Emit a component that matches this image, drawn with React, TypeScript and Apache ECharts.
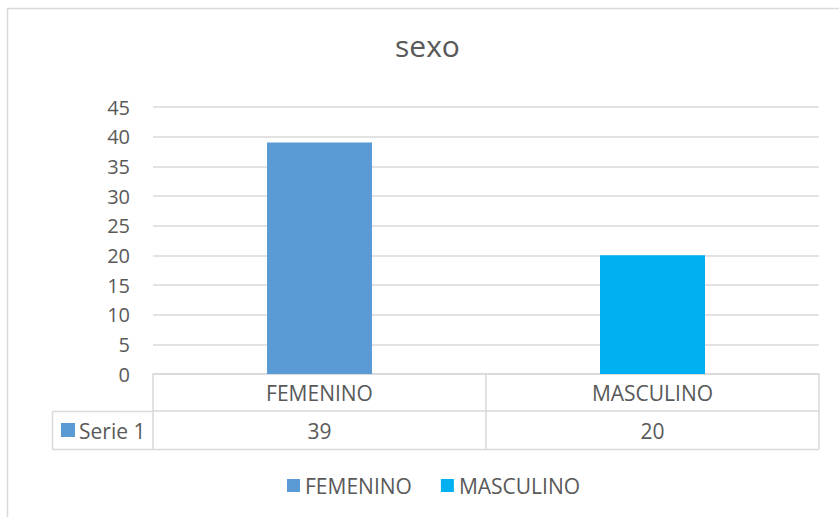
import React, { useEffect, useRef } from "react";
import * as echarts from "echarts";

const title = "sexo";
const categories = ["FEMENINO", "MASCULINO"];
const values = [39, 20];
const seriesLabel = "Serie 1";
const yTicks = { min: 0, max: 45, interval: 5 };
const palette = ["#5B9BD5", "#00B0F0"];

const FONT = "'Open Sans', 'Noto Sans', sans-serif";
const TXT = "#595959";
const LINE = "#d9d9d9";

export default function App() {
  const ref = useRef<HTMLDivElement>(null);
  useEffect(() => {
    if (!ref.current) return;
    const chart = echarts.init(ref.current, undefined, { renderer: "svg" });
    const series = categories.map((c, i) => ({
      name: c,
      type: "bar",
      stack: "s",
      barWidth: 105,
      data: values.map((v, j) => (j === i ? v : "-")),
      itemStyle: { color: palette[i] },
    }));
    chart.setOption({
      animation: false,
      backgroundColor: "#ffffff",
      textStyle: { fontFamily: FONT },
      title: {
        text: title,
        left: 395,
        top: 30,
        padding: 0,
        textStyle: { fontFamily: FONT, fontSize: 30, fontWeight: "normal", color: TXT },
      },
      legend: {
        data: categories,
        left: 287,
        top: 475,
        padding: 0,
        itemWidth: 13,
        itemHeight: 13,
        itemGap: 29,
        icon: "rect",
        textStyle: { fontFamily: FONT, fontSize: 21, color: TXT },
      },
      grid: { left: 153, right: 20, top: 107, bottom: 143, containLabel: false },
      xAxis: [
        {
          type: "category",
          data: categories,
          position: "bottom",
          axisLine: { show: true, lineStyle: { color: LINE, width: 1.5 } },
          axisTick: { show: true, length: 37, lineStyle: { color: LINE, width: 1.5 } },
          axisLabel: { fontFamily: FONT, fontSize: 21, color: TXT, margin: 8, lineHeight: 21 },
        },
        {
          type: "category",
          data: categories,
          position: "bottom",
          offset: 37,
          axisLine: { show: true, lineStyle: { color: LINE, width: 1.5 } },
          axisTick: { show: true, length: 38, lineStyle: { color: LINE, width: 1.5 } },
          axisLabel: {
            fontFamily: FONT,
            fontSize: 21,
            color: TXT,
            margin: 9,
            lineHeight: 21,
            formatter: (_v: string, idx: number) => String(values[idx]),
          },
        },
      ],
      yAxis: {
        type: "value",
        min: yTicks.min,
        max: yTicks.max,
        interval: yTicks.interval,
        axisLine: { show: false },
        axisTick: { show: false },
        axisLabel: { fontFamily: FONT, fontSize: 20, color: TXT, margin: 23 },
        splitLine: { lineStyle: { color: LINE, width: 1.5 } },
      },
      graphic: [
        {
          type: "rect",
          silent: true,
          shape: { x: 7.5, y: 8.5, width: 900, height: 600 },
          style: { fill: "none", stroke: LINE, lineWidth: 1.5 },
        },
        {
          type: "line",
          silent: true,
          shape: { x1: 52.5, y1: 411.5, x2: 153, y2: 411.5 },
          style: { stroke: LINE, lineWidth: 1.5 },
        },
        {
          type: "line",
          silent: true,
          shape: { x1: 52.5, y1: 411.5, x2: 52.5, y2: 449.5 },
          style: { stroke: LINE, lineWidth: 1.5 },
        },
        {
          type: "line",
          silent: true,
          shape: { x1: 52.5, y1: 449.5, x2: 819, y2: 449.5 },
          style: { stroke: LINE, lineWidth: 1.5 },
        },
        {
          type: "rect",
          silent: true,
          shape: { x: 61, y: 423, width: 14, height: 14 },
          style: { fill: palette[0] },
        },
        {
          type: "text",
          silent: true,
          x: 79,
          y: 431,
          style: {
            text: seriesLabel,
            fontFamily: FONT,
            fontSize: 21,
            fill: TXT,
            verticalAlign: "middle",
          },
        },
      ],
      series,
    });
    return () => chart.dispose();
  }, []);
  return (
    <div
      ref={ref}
      style={{ position: "fixed", left: 0, top: 0, width: 839, height: 517 }}
    />
  );
}
